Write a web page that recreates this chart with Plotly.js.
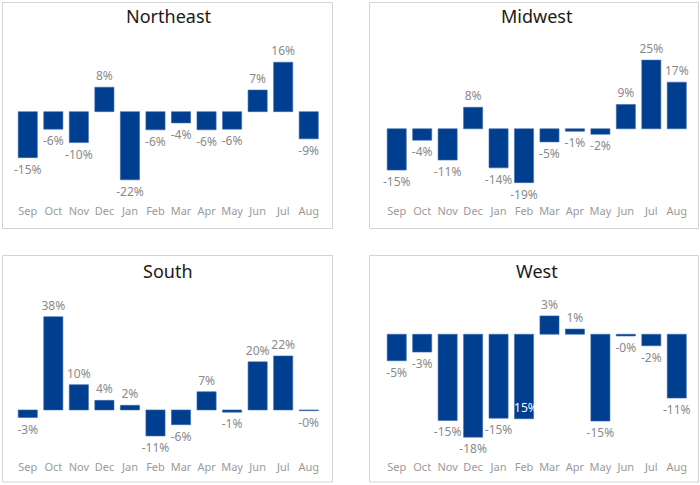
<!DOCTYPE html>
<html>
<head>
<meta charset="utf-8">
<script src="https://cdn.plot.ly/plotly-3.0.1.min.js"></script>
<style>html,body{margin:0;padding:0;background:#fff;}#chart{width:700px;height:485px;}</style>
</head>
<body>
<div id="chart"></div>
<script>
const months = ["Sep","Oct","Nov","Dec","Jan","Feb","Mar","Apr","May","Jun","Jul","Aug"];
const regions = ["Northeast","Midwest","South","West"];
const northeast = [-14.7,-5.6,-9.9,7.8,-21.8,-5.8,-3.6,-5.8,-5.6,6.9,15.8,-8.7];
const midwest   = [-14.8,-4.1,-11.2,7.7,-14.0,-19.3,-4.7,-0.9,-2.0,8.7,24.6,16.7];
const south     = [-3.1,38.0,10.3,3.9,1.9,-10.6,-6.0,7.4,-0.9,19.6,22.0,-0.3];
const west      = [-4.6,-3.1,-15.0,-17.9,-14.6,-14.7,3.2,0.9,-15.1,-0.3,-2.0,-11.1];
const series = [northeast, midwest, south, west];

const W = 700, H = 485;
const fmt = v => (v < 0 ? "-" : "") + Math.round(Math.abs(v)) + "%";

// panel geometry in pixels: plot area [x0,x1], [yTop,yBottom], y-range
const panels = [
  {x:[15,321.5],  y:[35,203],  r:[-29.2,24.5], box:[2.5,332.5,2.5,228.5],   t:[168,16]},
  {x:[384,689.5], y:[35,203],  r:[-26.6,33.6], box:[369.5,698.5,2.5,228.5], t:[537,16]},
  {x:[15,321.5],  y:[288,459], r:[-20.0,49.7], box:[2.5,332.5,255.5,482],   t:[168,271]},
  {x:[384,689.5], y:[288,459], r:[-21.7,8.05], box:[369.5,698.5,255.5,482], t:[537,271]}
];

const font = "'Noto Sans', 'Open Sans', sans-serif";
const data = [];
const layout = {
  width: W, height: H,
  margin: {l:0, r:0, t:0, b:0},
  paper_bgcolor: "#fff", plot_bgcolor: "rgba(0,0,0,0)",
  showlegend: false,
  bargap: 0.25,
  font: {family: font},
  shapes: [], annotations: []
};

panels.forEach((p, i) => {
  const n = i === 0 ? "" : String(i + 1);
  const vals = series[i];
  const pos = vals.map((v, j) => (i === 3 && months[j] === "Feb") ? "inside" : "outside");
  data.push({
    type: "bar",
    x: months,
    y: vals,
    xaxis: "x" + n, yaxis: "y" + n,
    marker: {color: "#003f8f", line: {color: "#3d6aad", width: 0.6}},
    text: vals.map(fmt),
    textposition: pos,
    insidetextanchor: "end",
    textangle: 0,
    constraintext: "none",
    cliponaxis: false,
    outsidetextfont: {family: font, size: 12, color: "#8a8a8a"},
    insidetextfont: {family: font, size: 12, color: "#ffffff"},
    hoverinfo: "skip"
  });
  layout["xaxis" + n] = {
    domain: [p.x[0] / W, p.x[1] / W],
    anchor: "y" + n,
    type: "category",
    showgrid: false, zeroline: false, showline: false, ticks: "",
    tickfont: {family: font, size: 11, color: "#9a9a9a"},
    fixedrange: true
  };
  layout["yaxis" + n] = {
    domain: [1 - p.y[1] / H, 1 - p.y[0] / H],
    anchor: "x" + n,
    range: p.r,
    showgrid: false, zeroline: false, showline: false, showticklabels: false, ticks: "",
    fixedrange: true
  };
  layout.shapes.push({
    type: "rect", xref: "paper", yref: "paper",
    x0: p.box[0] / W, x1: p.box[1] / W,
    y0: 1 - p.box[3] / H, y1: 1 - p.box[2] / H,
    line: {color: "#d4d4d4", width: 1}, fillcolor: "rgba(0,0,0,0)", layer: "below"
  });
  layout.annotations.push({
    text: regions[i], xref: "paper", yref: "paper",
    x: p.t[0] / W, y: 1 - p.t[1] / H, xanchor: "center", yanchor: "middle",
    showarrow: false, font: {family: font, size: 18, color: "#1a1a1a"}
  });
});

Plotly.newPlot("chart", data, layout, {staticPlot: true, displayModeBar: false});
</script>
</body>
</html>
